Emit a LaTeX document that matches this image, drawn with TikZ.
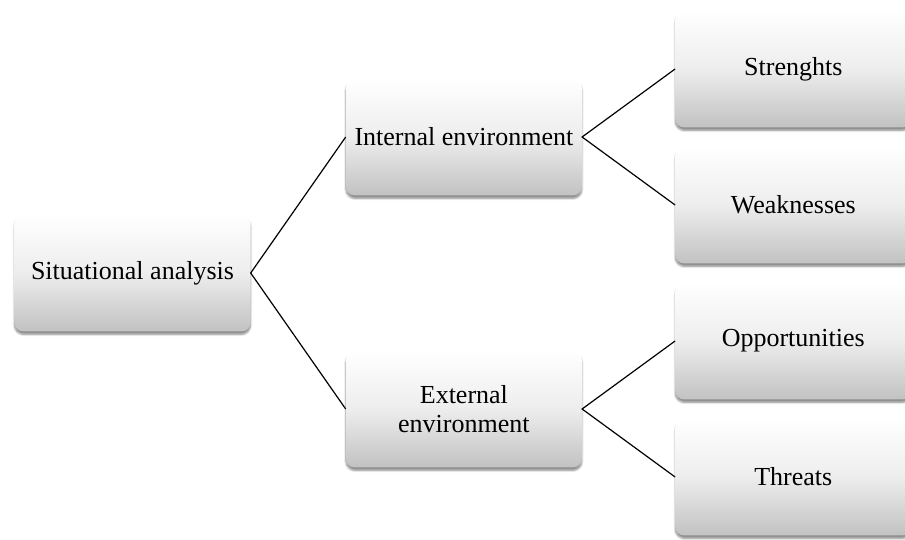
\documentclass[tikz,border=0pt]{standalone}
\usepackage{fontspec}
\setmainfont{Liberation Serif}
\usepackage{tikz}
\usetikzlibrary{positioning, shadows.blur}
\tikzset{box/.style={rectangle, rounded corners=9pt, minimum width=236pt, minimum height=117pt, inner sep=0pt, align=center,
    top color=white, bottom color=black!24, middle color=black!7,
    blur shadow={shadow xshift=0pt, shadow yshift=-3pt, shadow blur steps=6, shadow opacity=45},
    font=\fontsize{26}{29}\selectfont}}
\tikzset{link/.style={line width=1.2pt, black}}

\begin{document}
\begin{tikzpicture}[x=1pt, y=1pt]
\useasboundingbox (0,0) rectangle (905,540);
\node[box] (sa) at (132.5,267) {Situational analysis};
\node[box, right=95pt of sa, yshift=136pt] (ie) {Internal environment};
\node[box, right=95pt of sa, yshift=-136pt] (ee) {External\\environment};
\node[box, right=93pt of ie, yshift=68pt] (st) {Strenghts};
\node[box, right=93pt of ie, yshift=-68pt] (wk) {Weaknesses};
\node[box, right=93pt of ee, yshift=68pt] (op) {Opportunities};
\node[box, right=93pt of ee, yshift=-68pt] (th) {Threats};
\draw [link] (ie.west) -- (sa.east) -- (ee.west);
\draw [link] (st.west) -- (ie.east) -- (wk.west);
\draw [link] (op.west) -- (ee.east) -- (th.west);
\end{tikzpicture}
\end{document}
